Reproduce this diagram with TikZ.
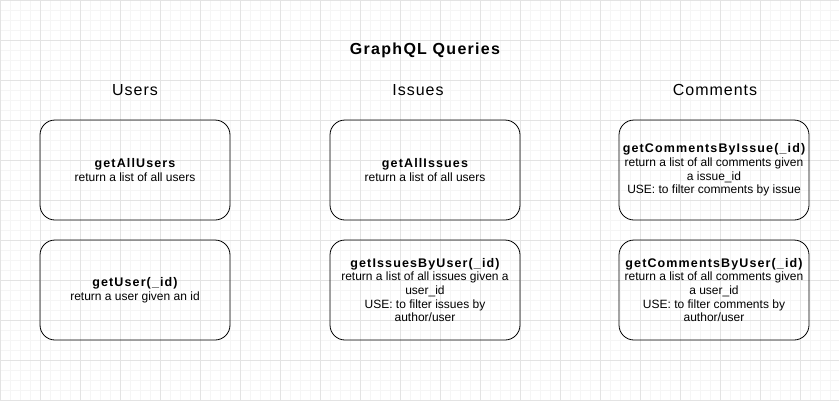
\documentclass[tikz,border=0pt]{standalone}
\usepackage{fontspec}
\setmainfont{Liberation Sans}
\newcommand\qttl[1]{{\bfseries\fontsize{12.5}{14}\selectfont\addfontfeature{LetterSpace=9}#1}}
\begin{document}
\begin{tikzpicture}[x=1pt,y=-1pt,
  qbox/.style={draw=black,line width=0.8pt,rounded corners=15pt,minimum width=190pt,minimum height=100pt,align=center,inner sep=1pt,font=\fontsize{12}{13.7}\selectfont},
  colhead/.style={font=\fontsize{16}{18}\selectfont\addfontfeature{LetterSpace=6}}]
\useasboundingbox (0,0) rectangle (839,400);
\draw[color=black!4,line width=0.6pt] (0,0) grid[step=10pt] (839,400);
\foreach \x in {0,40,...,839} \draw[color=black!11,line width=0.7pt] (\x,0) -- (\x,400);
\foreach \y in {0,40,...,400} \draw[color=black!11,line width=0.7pt] (0,\y) -- (839,\y);
\node[font=\bfseries\fontsize{16}{18}\selectfont\addfontfeature{LetterSpace=8}] (title) at (425,50) {GraphQL Queries};
\node[colhead] (hu) at (135,90) {Users};
\node[colhead] (hi) at (418,90) {Issues};
\node[colhead] (hc) at (715,90) {Comments};
\node[qbox] (u1) at (135,170) {\qttl{getAllUsers}\\return a list of all users};
\node[qbox] (u2) at (135,290) {\qttl{getUser(\_id)}\\return a user given an id};
\node[qbox] (i1) at (425,170) {\qttl{getAllIssues}\\return a list of all users};
\node[qbox] (i2) at (425,290) {\qttl{getIssuesByUser(\_id)}\\return a list of all issues given a\\user\_id\\USE: to filter issues by\\author/user};
\node[qbox] (c1) at (714,170) {\qttl{getCommentsByIssue(\_id)}\\return a list of all comments given\\a issue\_id\\USE: to filter comments by issue};
\node[qbox] (c2) at (714,290) {\qttl{getCommentsByUser(\_id)}\\return a list of all comments given\\a user\_id\\USE: to filter comments by\\author/user};
\end{tikzpicture}
\end{document}
